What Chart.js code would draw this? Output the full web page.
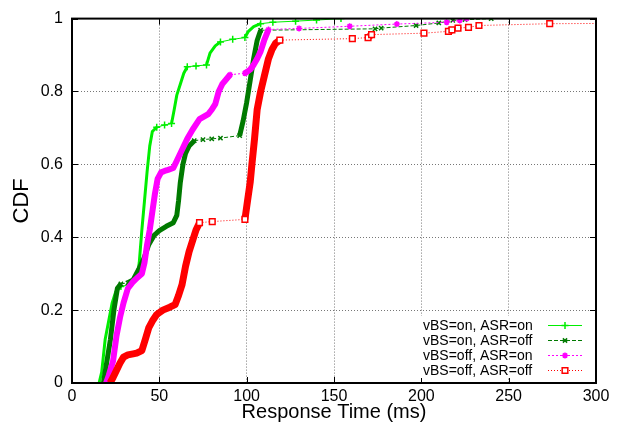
<!DOCTYPE html>
<html>
<head>
<meta charset="utf-8">
<script src="https://cdn.jsdelivr.net/npm/chart.js@4.4.1/dist/chart.umd.min.js"></script>
<style>
  html, body { margin: 0; padding: 0; background: #fff; }
</style>
</head>
<body>
<canvas id="cdf" width="625" height="426"></canvas>
<script>
const seriesLabels = ['vBS=on, ASR=on', 'vBS=on, ASR=off', 'vBS=off, ASR=on', 'vBS=off, ASR=off'];

const onOnTime = [15.5, 17, 19, 21, 23, 25, 28, 33, 37, 38.5, 40, 41.5, 43, 44.5, 46, 48.5, 53, 57, 58.5, 60, 62, 64, 66, 71, 77, 79, 82, 85, 92, 99, 101, 104, 108, 115, 128, 140, 154];
const onOnCdf = [0, 0.03, 0.12, 0.17, 0.22, 0.25, 0.265, 0.27, 0.285, 0.33, 0.42, 0.5, 0.58, 0.65, 0.69, 0.702, 0.708, 0.712, 0.75, 0.79, 0.82, 0.85, 0.868, 0.87, 0.873, 0.905, 0.925, 0.936, 0.943, 0.948, 0.965, 0.978, 0.986, 0.99, 0.993, 0.996, 1];

const onOffTime = [18, 20, 22, 24, 26, 28, 32, 35, 38, 41, 44, 47, 50, 54, 58, 60, 61, 62, 63.5, 65, 67, 70, 75, 80, 85, 96, 98, 100, 102, 104, 106, 108, 173.5, 177, 197, 210, 218, 225, 240];
const onOffCdf = [0, 0.06, 0.12, 0.2, 0.26, 0.272, 0.275, 0.283, 0.31, 0.34, 0.38, 0.405, 0.418, 0.43, 0.44, 0.46, 0.5, 0.55, 0.6, 0.63, 0.65, 0.665, 0.668, 0.67, 0.672, 0.679, 0.72, 0.77, 0.83, 0.89, 0.94, 0.968, 0.972, 0.974, 0.981, 0.988, 0.995, 0.997, 1];

const offOnTime = [19.5, 21, 23.5, 25.5, 27.5, 29.5, 32, 35, 37, 40, 41.5, 43, 44.5, 46, 47.5, 49, 51, 53, 55, 58, 60, 63, 66, 69, 73, 78, 80, 82, 84, 86, 90.5, 99, 102, 104, 106, 108, 110, 112.5, 130, 159, 186, 214.5, 222, 226];
const offOnCdf = [0, 0.02, 0.06, 0.13, 0.18, 0.22, 0.26, 0.278, 0.287, 0.3, 0.33, 0.38, 0.42, 0.47, 0.52, 0.56, 0.578, 0.582, 0.585, 0.59, 0.61, 0.64, 0.67, 0.695, 0.724, 0.738, 0.75, 0.765, 0.8, 0.82, 0.846, 0.85, 0.86, 0.873, 0.89, 0.91, 0.94, 0.97, 0.973, 0.979, 0.985, 0.99, 0.995, 1];

const offOffTime = [21.8, 23.5, 25.5, 27.5, 29.5, 32, 35, 37, 40, 42, 44, 46, 48.5, 52, 56, 59, 61, 63, 65, 67, 69, 71, 73, 80.3, 99, 100.5, 102, 103, 104.5, 106, 108, 110, 112.5, 114.5, 116.5, 119, 160.5, 169.5, 171.5, 201.5, 215.5, 217.5, 221, 227, 233, 273.5, 315];
const offOffCdf = [0, 0.015, 0.035, 0.055, 0.071, 0.077, 0.08, 0.082, 0.089, 0.12, 0.152, 0.17, 0.188, 0.2, 0.208, 0.215, 0.24, 0.27, 0.32, 0.36, 0.39, 0.42, 0.44, 0.443, 0.449, 0.5, 0.55, 0.6, 0.67, 0.75, 0.8, 0.84, 0.89, 0.915, 0.932, 0.941, 0.945, 0.948, 0.956, 0.96, 0.965, 0.969, 0.974, 0.976, 0.981, 0.986, 0.987];

const xTicks = [0, 50, 100, 150, 200, 250, 300];
const yTicks = [0, 0.2, 0.4, 0.6, 0.8, 1];
const yTickLabels = ['0', '0.2', '0.4', '0.6', '0.8', '1'];

const FONT = '"Liberation Sans", Arial, Helvetica, sans-serif';

// Стили линий в духе gnuplot
const styles = [
  { color: '#00ee00', dash: [], dense: 3, point: 'cross', radius: 3.5, pw: 1.5, fill: '#00ee00', order: 4 },
  { color: '#007a00', dash: [4, 2], dense: 5, point: 'crossRot', radius: 3, pw: 1.5, fill: '#007a00', order: 3 },
  { color: '#ff00ff', dash: [2, 2], dense: 6, point: 'star', radius: 3, pw: 1.5, fill: '#ff00ff', order: 2 },
  { color: '#ff0000', dash: [1, 2], dense: 7, point: 'rect', radius: 4, pw: 1.5, fill: '#ffffff', order: 1 },
];

// Редкий участок: длинный пологий отрезок между точками (тонкая линия с маркерами)
function isGap(a, b) {
  const dx = Math.abs(b.x - a.x);
  const dy = Math.abs(b.y - a.y);
  return dx > 6 && dy < dx * 0.4;
}

function markerRadius(c, r) {
  const sx = c.chart.scales.x, sy = c.chart.scales.y;
  if (!sx || !sy || c.type !== 'data') return 0;
  const data = c.dataset.data, i = c.dataIndex;
  const toPx = (p) => ({ x: sx.getPixelForValue(p.x), y: sy.getPixelForValue(p.y) });
  const cur = toPx(data[i]);
  const near = [data[i - 1], data[i + 1]].filter(Boolean).map(toPx);
  return near.some((n) => isGap(cur, n)) ? r : 0;
}

function makeDataset(idx, xs, ys) {
  const st = styles[idx];
  return {
    label: seriesLabels[idx],
    data: xs.map((x, i) => ({ x: x, y: ys[i] })),
    borderColor: st.color,
    backgroundColor: st.fill,
    borderWidth: st.dense,
    borderJoinStyle: 'round',
    tension: 0,
    order: st.order,
    pointStyle: st.point,
    pointBorderColor: st.color,
    pointBackgroundColor: st.fill,
    pointBorderWidth: st.pw,
    pointRadius: (c) => markerRadius(c, st.radius),
    segment: {
      borderWidth: (c) => (isGap(c.p0, c.p1) ? 1 : st.dense),
      borderDash: (c) => (isGap(c.p0, c.p1) ? st.dash : []),
    },
  };
}

// Рамка вокруг поля и внутренние засечки
const frameBorder = {
  id: 'frameBorder',
  afterDatasetsDraw(chart) {
    const { ctx, chartArea: { left, top, right, bottom, width, height } } = chart;
    const sx = chart.scales.x, sy = chart.scales.y;
    ctx.save();
    ctx.strokeStyle = '#000';
    ctx.lineWidth = 1;
    ctx.setLineDash([]);
    ctx.beginPath();
    xTicks.forEach((v) => {
      const px = Math.round(sx.getPixelForValue(v)) + 0.5;
      ctx.moveTo(px, bottom); ctx.lineTo(px, bottom - 6);
      ctx.moveTo(px, top); ctx.lineTo(px, top + 6);
    });
    yTicks.forEach((v) => {
      const py = Math.round(sy.getPixelForValue(v)) + 0.5;
      ctx.moveTo(left, py); ctx.lineTo(left + 6, py);
      ctx.moveTo(right, py); ctx.lineTo(right - 6, py);
    });
    ctx.stroke();
    ctx.lineWidth = 2;
    ctx.strokeRect(left, top, width, height);
    ctx.restore();
  },
};

// Легенда внутри поля, справа снизу
const insideLegend = {
  id: 'insideLegend',
  afterDraw(chart) {
    const { ctx } = chart;
    const textX = 423, lineX0 = 548, lineX1 = 582, rowY0 = 325, rowStep = 15;
    const rows = chart.data.datasets;
    ctx.save();
    ctx.fillStyle = '#fff';
    ctx.fillRect(textX - 6, rowY0 - 9, lineX1 - textX + 10, rowStep * rows.length + 2);
    ctx.font = '14px ' + FONT;
    ctx.textBaseline = 'middle';
    ctx.textAlign = 'left';
    rows.forEach((ds, i) => {
      const st = styles[i];
      const y = rowY0 + i * rowStep;
      ctx.fillStyle = '#000';
      ctx.fillText(ds.label, textX, y + 1);
      ctx.strokeStyle = st.color;
      ctx.lineWidth = 1;
      ctx.setLineDash(st.dash);
      ctx.beginPath();
      ctx.moveTo(lineX0, y + 0.5);
      ctx.lineTo(lineX1, y + 0.5);
      ctx.stroke();
      ctx.setLineDash([]);
      ctx.fillStyle = st.fill;
      ctx.lineWidth = st.pw;
      Chart.helpers.drawPoint(ctx, { pointStyle: st.point, radius: st.radius, borderWidth: st.pw, rotation: 0 }, (lineX0 + lineX1) / 2, y + 0.5);
    });
    ctx.restore();
  },
};

const chartConfig = {
  type: 'line',
  data: {
    datasets: [
      makeDataset(0, onOnTime, onOnCdf),
      makeDataset(1, onOffTime, onOffCdf),
      makeDataset(2, offOnTime, offOnCdf),
      makeDataset(3, offOffTime, offOffCdf),
    ],
  },
  options: {
    responsive: false,
    animation: false,
    events: [],
    layout: { padding: { top: 13, right: 29, bottom: 0, left: 0 } },
    plugins: {
      legend: { display: false },
      tooltip: { enabled: false },
    },
    scales: {
      x: {
        type: 'linear',
        min: 0,
        max: 300,
        afterFit: (scale) => { scale.height = 43; },
        afterBuildTicks: (scale) => { scale.ticks = xTicks.map((v) => ({ value: v })); },
        ticks: { color: '#000', font: { family: FONT, size: 16 }, padding: 4, maxRotation: 0, callback: (v) => String(v) },
        grid: { color: '#777', drawTicks: false },
        border: { display: false, dash: [1, 2] },
        title: {
          display: true,
          text: 'Response Time (ms)',
          color: '#000',
          font: { family: FONT, size: 20 },
          padding: { top: 0, bottom: 2 },
        },
      },
      y: {
        min: 0,
        max: 1,
        afterFit: (scale) => { scale.width = 72; },
        afterBuildTicks: (scale) => { scale.ticks = yTicks.map((v) => ({ value: v })); },
        ticks: {
          color: '#000',
          font: { family: FONT, size: 16 },
          padding: 9,
          callback: (v, i) => yTickLabels[i],
        },
        grid: { color: '#777', drawTicks: false },
        border: { display: false, dash: [1, 2] },
        title: {
          display: true,
          text: 'CDF',
          color: '#000',
          font: { family: FONT, size: 22 },
          padding: { top: 9, bottom: 0 },
        },
      },
    },
  },
  plugins: [frameBorder, insideLegend],
};

new Chart(document.getElementById('cdf'), chartConfig);
</script>
</body>
</html>
